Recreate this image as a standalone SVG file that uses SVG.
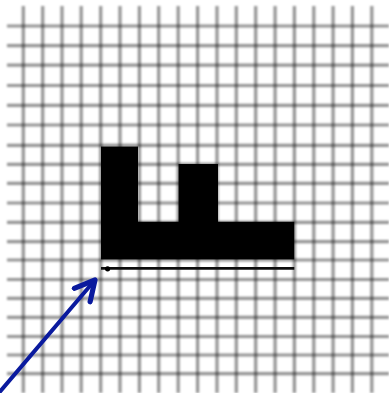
<svg xmlns="http://www.w3.org/2000/svg" width="389" height="393" viewBox="0 0 389 393">
<defs>
<filter id="soft" x="-5%" y="-5%" width="110%" height="110%"><feGaussianBlur stdDeviation="1.1"/></filter>
<filter id="edge" x="-5%" y="-5%" width="110%" height="110%"><feGaussianBlur stdDeviation="0.5"/></filter>
<marker id="head" viewBox="0 0 10 10" refX="8.6" refY="5" markerWidth="6.5" markerHeight="6.5" markerUnits="strokeWidth" orient="auto"><path d="M1,1 L8.6,5 L1,9" fill="none" stroke="#0a1a9e" stroke-width="2" stroke-linecap="round" stroke-linejoin="round"/></marker>
</defs>
<style>
.g line{stroke:#000;stroke-opacity:0.42;stroke-width:3.2}
</style>
<rect width="389" height="393" fill="#fff"/>
<g id="grid" class="g" filter="url(#soft)">
<line x1="23.3" y1="6" x2="23.3" y2="393"/>
<line x1="42.7" y1="6" x2="42.7" y2="393"/>
<line x1="62" y1="6" x2="62" y2="393"/>
<line x1="81.2" y1="6" x2="81.2" y2="393"/>
<line x1="100.7" y1="6" x2="100.7" y2="393"/>
<line x1="120" y1="6" x2="120" y2="393"/>
<line x1="139.4" y1="6" x2="139.4" y2="393"/>
<line x1="158.7" y1="6" x2="158.7" y2="393"/>
<line x1="178.2" y1="6" x2="178.2" y2="393"/>
<line x1="197.6" y1="6" x2="197.6" y2="393"/>
<line x1="217" y1="6" x2="217" y2="393"/>
<line x1="236.3" y1="6" x2="236.3" y2="393"/>
<line x1="255.7" y1="6" x2="255.7" y2="393"/>
<line x1="275.1" y1="6" x2="275.1" y2="393"/>
<line x1="294.4" y1="6" x2="294.4" y2="393"/>
<line x1="313.8" y1="6" x2="313.8" y2="393"/>
<line x1="333.1" y1="6" x2="333.1" y2="393"/>
<line x1="352.4" y1="6" x2="352.4" y2="393"/>
<line x1="371.8" y1="6" x2="371.8" y2="393"/>
<line x1="7" y1="26" x2="389" y2="26"/>
<line x1="7" y1="45.7" x2="389" y2="45.7"/>
<line x1="7" y1="65.2" x2="389" y2="65.2"/>
<line x1="7" y1="85.5" x2="389" y2="85.5"/>
<line x1="7" y1="105.4" x2="389" y2="105.4"/>
<line x1="7" y1="125" x2="389" y2="125"/>
<line x1="7" y1="145.3" x2="389" y2="145.3"/>
<line x1="7" y1="164.3" x2="389" y2="164.3"/>
<line x1="7" y1="183.3" x2="389" y2="183.3"/>
<line x1="7" y1="203" x2="389" y2="203"/>
<line x1="7" y1="222.4" x2="389" y2="222.4"/>
<line x1="7" y1="241.7" x2="389" y2="241.7"/>
<line x1="7" y1="260" x2="389" y2="260"/>
<line x1="7" y1="279.5" x2="389" y2="279.5"/>
<line x1="7" y1="298.3" x2="389" y2="298.3"/>
<line x1="7" y1="317.3" x2="389" y2="317.3"/>
<line x1="7" y1="336.5" x2="389" y2="336.5"/>
<line x1="7" y1="355" x2="389" y2="355"/>
<line x1="7" y1="373.6" x2="389" y2="373.6"/>
</g>
<g id="shape" filter="url(#edge)">
<path d="M101,146.5 H138 V221.7 H178.5 V164 H218 V221.7 H294.3 V259.5 H101 Z" fill="#000"/>
<line x1="101" y1="268.4" x2="294.3" y2="268.4" stroke="#111" stroke-width="2.6"/>
<circle cx="107.6" cy="268.8" r="2.6" fill="#000"/>
</g>
<g id="connectors">
<line x1="-2" y1="394" x2="95" y2="280" stroke="#0a1a9e" stroke-width="4" stroke-linecap="round" marker-end="url(#head)"/>
</g>
</svg>
